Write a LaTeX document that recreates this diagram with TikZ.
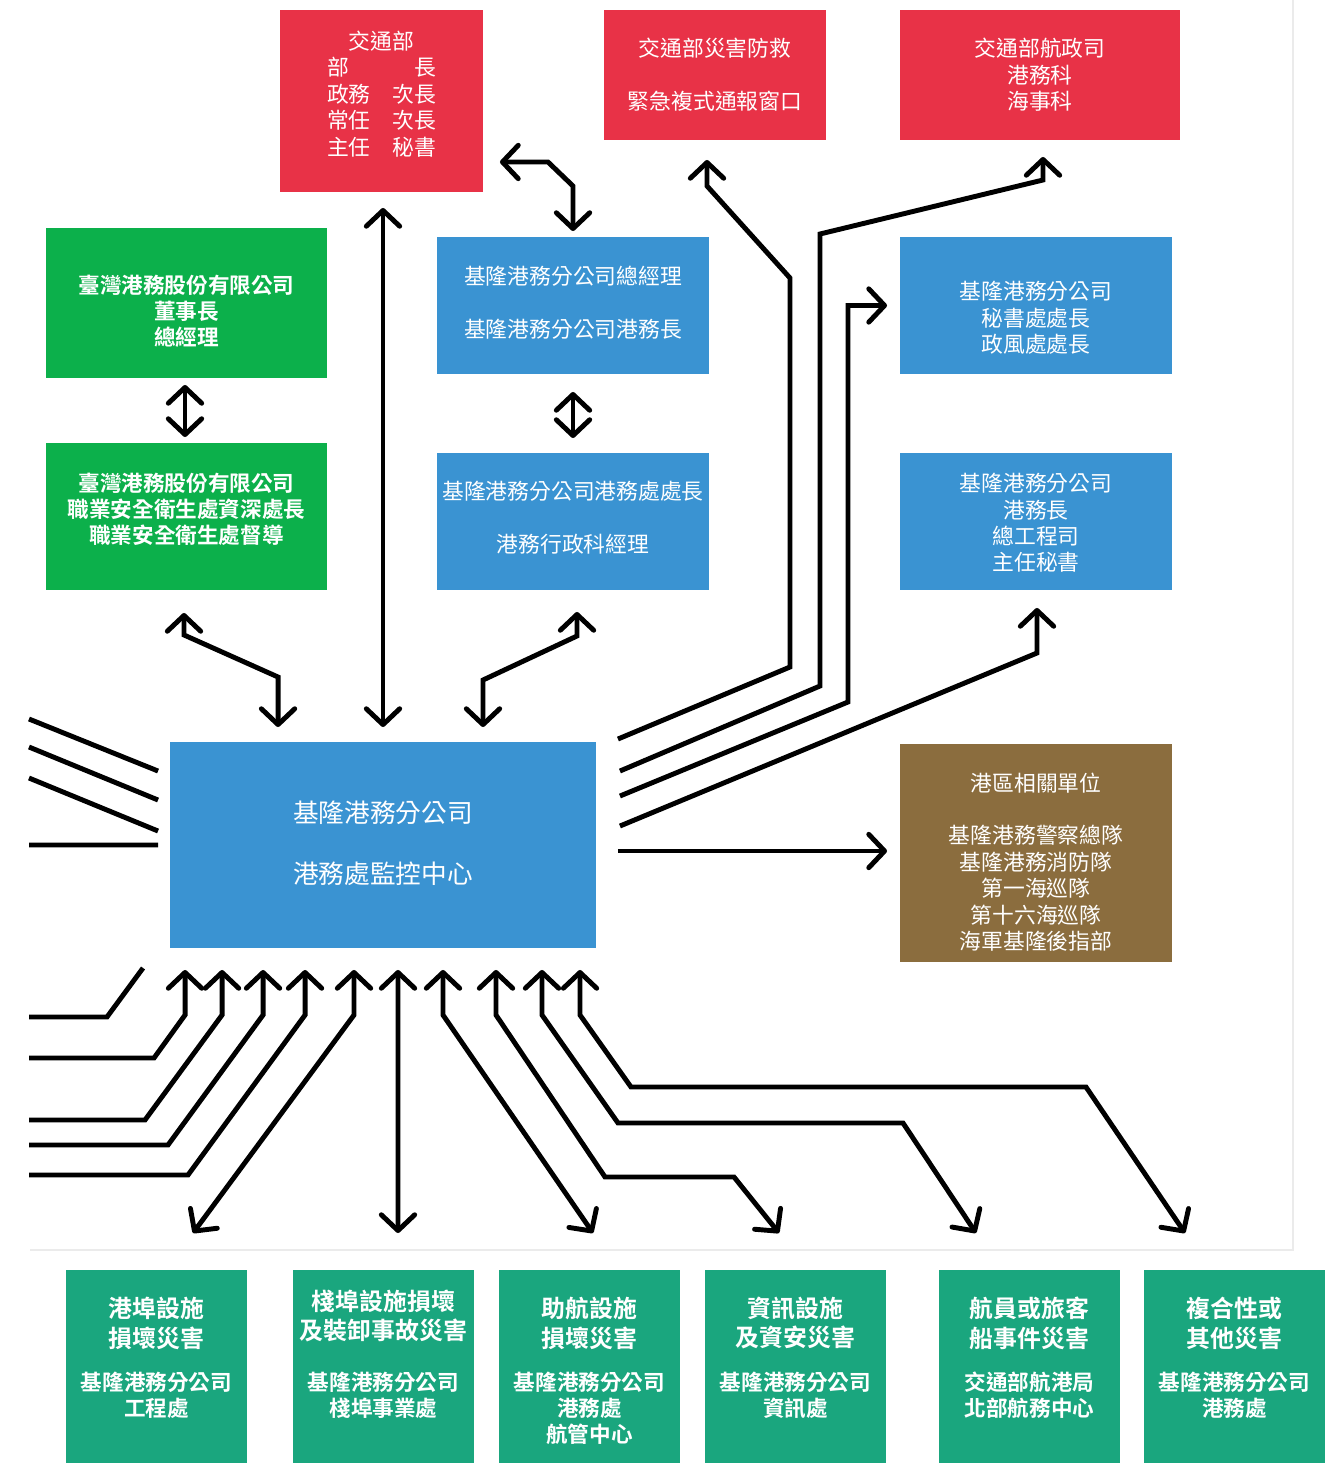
\documentclass[tikz,border=0pt]{standalone}
\usepackage{fontspec}
\usetikzlibrary{calc}
\usetikzlibrary{arrows.meta}
\newfontfamily\cjk{Noto Sans CJK TC}
\newfontfamily\cjkb{Noto Sans CJK TC Bold}
\definecolor{jred}{RGB}{232,50,71}
\definecolor{jgreen}{RGB}{12,176,75}
\definecolor{jblue}{RGB}{58,147,210}
\definecolor{jbrown}{RGB}{139,109,62}
\definecolor{jteal}{RGB}{26,166,126}
\tikzset{
  box/.style={draw=none, inner sep=0pt, outer sep=0pt, minimum width=5.44cm, minimum height=2.74cm},
  txt/.style={text=white, align=center, inner sep=0pt, outer sep=0pt, font=\cjk\fontsize{12.4}{15}\selectfont},
  txtb/.style={txt, font=\cjkb\fontsize{12.3}{14.8}\selectfont},
}

\begin{document}
\begin{tikzpicture}[x=0.02cm, y=-0.02cm, line width=2.8pt, >={Straight Barb[length=9pt,width=19pt,round]}]
        \useasboundingbox (0,0) rectangle (1341,1463);
        %Cadre
        \draw[black!8, line width=0.8pt] (30,1250) -- (1293,1250) -- (1293,0);
        %Boites rouges
        \node[box, fill=jred, minimum width=4.06cm, minimum height=3.64cm] (r1) at (381.5,101) {};
        \node[txt] (r1t) at (381.5,94) {交通部\\部　　　長\\政務　次長\\常任　次長\\主任　秘書};
        \node[box, fill=jred, minimum width=4.44cm, minimum height=2.6cm] (r2) at (715,75) {};
        \node[txt] (r2t) at (715,75) {交通部災害防救\\[15pt]緊急複式通報窗口};
        \node[box, fill=jred, minimum width=5.6cm, minimum height=2.6cm] (r3) at (1040,75) {};
        \node[txt] (r3t) at (1040,75) {交通部航政司\\港務科\\海事科};
        %Boites vertes
        \node[box, fill=jgreen, minimum width=5.62cm, minimum height=3cm] (g1) at (186.5,303) {};
        \node[txtb] (g1t) at (186.5,311) {臺灣港務股份有限公司\\董事長\\總經理};
        \node[box, fill=jgreen, minimum width=5.62cm, minimum height=2.94cm] (g2) at (186.5,516.5) {};
        \node[txtb] (g2t) at (186.5,509) {臺灣港務股份有限公司\\職業安全衛生處資深處長\\職業安全衛生處督導};
        %Boites bleues
        \node[box, fill=jblue] (b1) at (573,305.5) {};
        \node[txt] (b1t) at (573,303) {基隆港務分公司總經理\\[15pt]基隆港務分公司港務長};
        \node[box, fill=jblue] (b2) at (573,521.5) {};
        \node[txt] (b2t) at (573,518) {基隆港務分公司港務處處長\\[15pt]港務行政科經理};
        \node[box, fill=jblue] (b3) at (1036,305.5) {};
        \node[txt] (b3t) at (1036,318) {基隆港務分公司\\秘書處處長\\政風處處長};
        \node[box, fill=jblue] (b4) at (1036,521.5) {};
        \node[txt] (b4t) at (1036,523) {基隆港務分公司\\港務長\\總工程司\\主任秘書};
        %Centre
        \node[box, fill=jblue, minimum width=8.52cm, minimum height=4.12cm] (main) at (383,845) {};
        \node[txt, font=\cjk\fontsize{14.6}{18}\selectfont] (maint) at (383,843.5) {基隆港務分公司\\[17pt]港務處監控中心};
        %Unites du port
        \node[box, fill=jbrown, minimum height=4.36cm] (port) at (1036,853) {};
        \node[txt] (portt) at (1036,862) {港區相關單位\\[15pt]基隆港務警察總隊\\基隆港務消防隊\\第一海巡隊\\第十六海巡隊\\海軍基隆後指部};
        %Boites du bas
        \foreach \nm/\cx/\ty/\ta/\sy/\sa in {
          t1/156.5/1323/{港埠設施\\損壞災害}/1395/{基隆港務分公司\\工程處},
          t2/383.5/1316/{棧埠設施損壞\\及裝卸事故災害}/1395/{基隆港務分公司\\棧埠事業處},
          t3/589.5/1323/{助航設施\\損壞災害}/1408/{基隆港務分公司\\港務處\\航管中心},
          t4/795.5/1323/{資訊設施\\及資安災害}/1395/{基隆港務分公司\\資訊處},
          t5/1029.5/1323/{航員或旅客\\船事件災害}/1395/{交通部航港局\\北部航務中心},
          t6/1234.5/1323/{複合性或\\其他災害}/1395/{基隆港務分公司\\港務處}}
        {
          \node[box, fill=jteal, minimum width=3.62cm, minimum height=4cm] (\nm) at (\cx,1370) {};
          \node[txtb, font=\cjkb\fontsize{13.6}{17}\selectfont] (\nm-h) at (\cx,\ty) {\ta};
          \node[txtb] (\nm-s) at (\cx,\sy) {\sa};
        }
        %Fleches du haut
        \draw[<->] ($(main.north)+(0,-15)$) -- ($(main.north |- r1.south)+(0,16)$);
        \draw[<->] ($(b1.north)+(0,-6)$) -- ++(0,-45) -- ++(-25,-24) -- ($(r1.south east)+(17,-30)$);
        \draw[<->] ($(b1.south)+(0,18)$) -- ($(b2.north)+(0,-15)$);
        \draw[<->] ($(g1.south)+(-1.5,7)$) -- ($(g2.north)+(-1.5,-6)$);
        \draw[<->] ($(g2.south)+(-2.5,23)$) -- ++(0,22) -- ($(main.north west)+(108,-65)$) -- ($(main.north west)+(108,-15)$);
        \draw[<->] ($(b2.south)+(4,22)$) -- ++(0,24) -- ($(main.north)+(100,-62)$) -- ($(main.north)+(100,-15)$);
        %Fleches de droite
        \draw[->] ($(main.north east)+(22,-3)$) -- (790,667) -- (790,278) -- (707,186) -- ($(r2.south)+(-8,20)$);
        \draw[->] ($(main.north east)+(24,29)$) -- (820,686) -- (820,234) -- (1043,180) -- ($(r3.south)+(3,17)$);
        \draw[->] ($(main.north east)+(24,54)$) -- (848,702) -- (848,305.5) -- ($(b3.west)+(-13,0)$);
        \draw[->] ($(main.north east)+(24,84)$) -- (1037,653) -- ($(b4.south)+(1,18)$);
        \draw[->] ($(main.east)+(22,6)$) -- ($(port.west)+(-13,-2)$);
        %Traits de gauche
        \foreach \ya/\yb [count=\i] in {719/29, 747/58, 778/89, 845/103}
        {
          \coordinate (lg\i) at (29,\ya);
          \draw (lg\i) -- ($(main.north west)+(-12,\yb)$);
        }
        %Fleches du bas
        \coordinate (bl0) at (29,1017);
        \draw (bl0) -- (107,1017) -- ($(main.south west)+(-27,20)$);
        \foreach \ya/\xb/\dx [count=\i] in {1058/154/15, 1120/145/52, 1145/168/93, 1175/188/135}
        {
          \coordinate (bl\i) at (29,\ya);
          \draw[->] (bl\i) -- (\xb,\ya) -- ($(main.south west)+(\dx,67)$) -- ($(main.south west)+(\dx,22)$);
        }
        \draw[<->] ($(main.south)+(-29,22)$) -- ++(0,45) -- ($(t1.north)+(36.5,-37)$);
        \draw[<->] ($(main.south)+(15,22)$) -- ($(t2.north)+(14.5,-37)$);
        \draw[<->] ($(main.south)+(60,22)$) -- ++(0,45) -- ($(t3.north)+(3.5,-37)$);
        \draw[<->] ($(main.south)+(113,22)$) -- ++(0,45) -- (605,1177) -- (734,1177) -- ($(t4.north)+(-16.5,-37)$);
        \draw[<->] ($(main.south)+(159,22)$) -- ++(0,45) -- (618,1123) -- (903,1123) -- ($(t5.north)+(-53.5,-37)$);
        \draw[<->] ($(main.south)+(197,22)$) -- ++(0,45) -- (631,1087) -- (1086,1087) -- ($(t6.north)+(-49.5,-37)$);
\end{tikzpicture}
\end{document}
